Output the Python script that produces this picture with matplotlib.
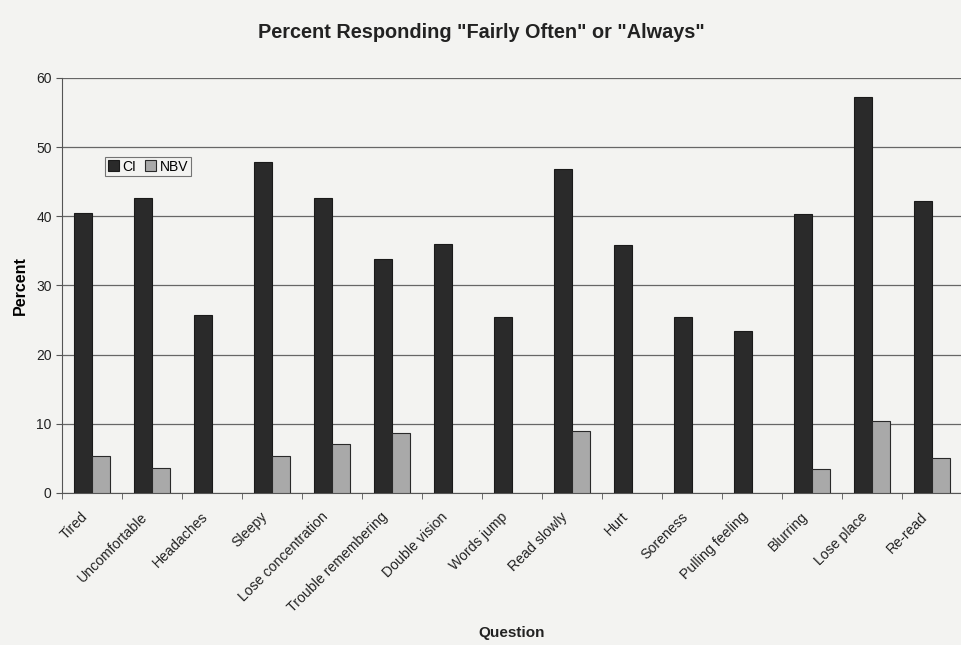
import matplotlib
matplotlib.use("Agg")
import matplotlib.pyplot as plt
import numpy as np

categories = ["Tired", "Uncomfortable", "Headaches", "Sleepy", "Lose concentration",
              "Trouble remembering", "Double vision", "Words jump", "Read slowly", "Hurt",
              "Soreness", "Pulling feeling", "Blurring", "Lose place", "Re-read"]
ci = [40.5, 42.6, 25.7, 47.8, 42.6, 33.9, 36.0, 25.5, 46.8, 35.9, 25.4, 23.4, 40.3, 57.3, 42.2]
nbv = [5.3, 3.6, 0, 5.3, 7.1, 8.7, 0, 0, 8.9, 0, 0, 0, 3.4, 10.4, 5.1]
yticks = [0, 10, 20, 30, 40, 50, 60]

plt.rcParams['font.family'] = ['Liberation Sans', 'DejaVu Sans']
bg = '#f3f3f1'
fig = plt.figure(figsize=(9.62, 6.45), dpi=100, facecolor=bg)
ax = fig.add_axes([0.0645, 0.2357, 0.9355, 0.6434], facecolor=bg)

x = np.arange(len(categories))
w = 0.3
ax.bar(x - w/2 + 0.5, ci, width=w, color='#2a2a2a', edgecolor='#1a1a1a', linewidth=0.8, label='CI', zorder=3)
nb_x = [xi + w/2 + 0.5 for xi, v in zip(x, nbv) if v > 0]
nb_v = [v for v in nbv if v > 0]
ax.bar(nb_x, nb_v, width=w, color='#a9a9a9', edgecolor='#2a2a2a', linewidth=0.8, label='NBV', zorder=3)

ax.set_xlim(0, len(categories))
ax.set_ylim(0, 60)
ax.set_yticks(yticks)
ax.set_yticklabels([str(t) for t in yticks], fontsize=10, color='#222222')
ax.set_xticks(x + 0.5 - 0.19)
ax.set_xticklabels(categories, rotation=45, ha='right', rotation_mode='anchor', fontsize=10.2, color='#222222')
ax.set_xticks(np.arange(len(categories) + 1), minor=True)
ax.tick_params(axis='x', which='major', length=0, pad=12)
ax.tick_params(axis='x', which='minor', length=4, direction='out', color='#555555')
ax.tick_params(axis='y', length=4, direction='out', color='#555555')
ax.yaxis.grid(True, color='#666666', linewidth=0.9, zorder=0)
for s in ['top', 'right']:
    ax.spines[s].set_visible(False)
ax.spines['left'].set_color('#555555')
ax.spines['bottom'].set_color('#555555')

ax.set_ylabel('Percent', fontsize=11.5, fontweight='bold', labelpad=6)
fig.text(512/962, 1 - 633/645, 'Question', ha='center', va='center', fontsize=11, fontweight='bold', color='#222222')
fig.text(0.5, 1 - 32/645, 'Percent Responding "Fairly Often" or "Always"', ha='center', va='center',
         fontsize=14.3, fontweight='bold', color='#222222')

leg = ax.legend(loc='upper left', bbox_to_anchor=(0.048, 0.81), borderaxespad=0, ncol=2, frameon=True,
                fancybox=False, fontsize=10, handlelength=0.8, handleheight=0.8, handletextpad=0.25,
                columnspacing=0.6, borderpad=0.2, edgecolor='#555555')
leg.get_frame().set_facecolor(bg)
leg.get_frame().set_linewidth(0.8)

fig.savefig('out.png', dpi=100, facecolor=bg)
